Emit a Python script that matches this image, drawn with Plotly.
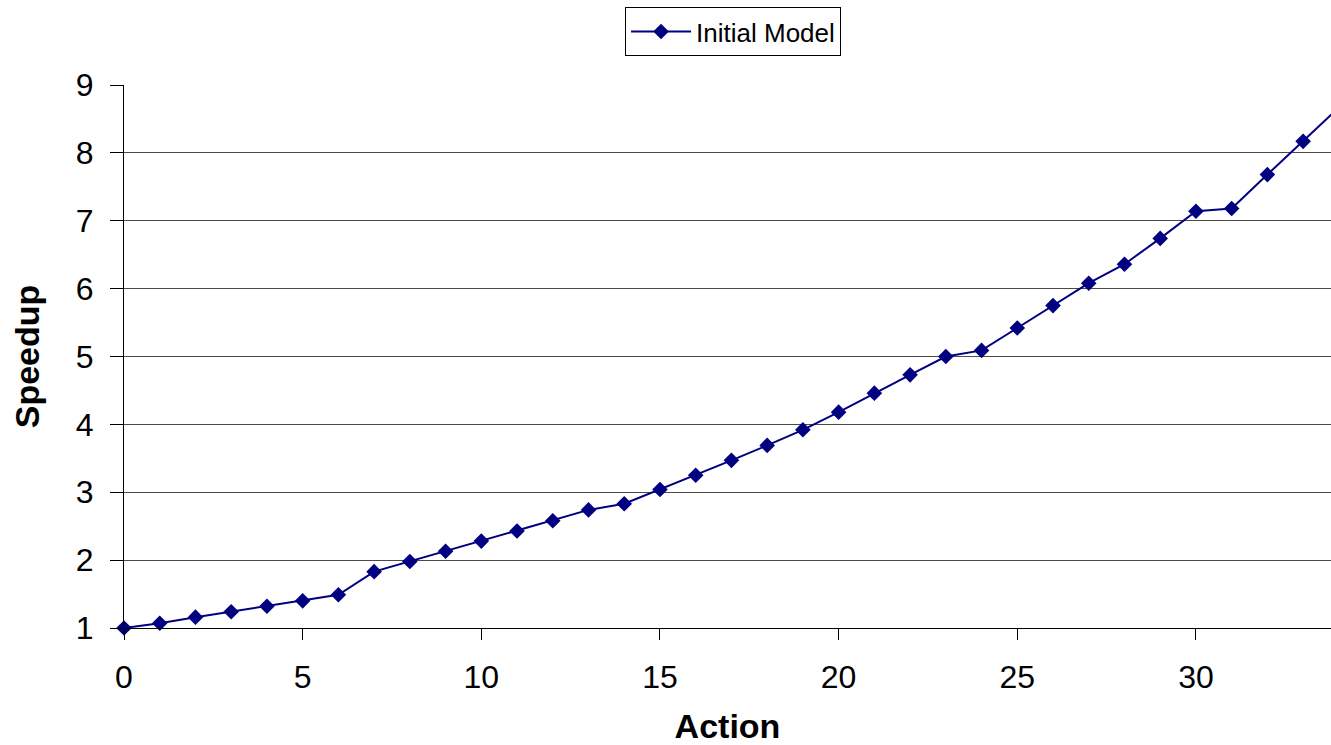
import plotly.graph_objects as go

actions = list(range(0, 35))
speedup = [1.00, 1.07, 1.16, 1.24, 1.32, 1.40, 1.49, 1.83, 1.98, 2.13,
           2.28, 2.43, 2.58, 2.74, 2.83, 3.04, 3.25, 3.47, 3.69, 3.92,
           4.18, 4.46, 4.73, 5.00, 5.09, 5.42, 5.75, 6.08, 6.36, 6.74,
           7.14, 7.18, 7.68, 8.17, 8.67]
series_name = "Initial Model"
x_ticks = [0, 5, 10, 15, 20, 25, 30]
y_ticks = [1, 2, 3, 4, 5, 6, 7, 8, 9]

fig = go.Figure()
fig.add_trace(go.Scatter(
    x=actions, y=speedup, name=series_name, mode="lines+markers",
    line=dict(color="#000080", width=2),
    marker=dict(symbol="diamond", size=12, color="#000080"),
    cliponaxis=False,
))

font = "Liberation Sans, Arial, sans-serif"
fig.update_layout(
    width=1331, height=745,
    margin=dict(l=124, r=0, t=85, b=117),
    plot_bgcolor="white", paper_bgcolor="white",
    font=dict(family=font, color="black", size=26),
    showlegend=True,
    legend=dict(
        x=0.5046, y=1.1436, xanchor="center", yanchor="top",
        bordercolor="black", borderwidth=1,
        font=dict(size=26, family=font), bgcolor="white",
        itemwidth=60, tracegroupgap=0,
    ),
    xaxis=dict(
        range=[0, 33.78], tickvals=x_ticks, showgrid=False,
        showline=True, linecolor="black", linewidth=1,
        ticks="outside", ticklen=11, tickcolor="black",
        tickfont=dict(size=32), ticklabelstandoff=10,
        zeroline=False, automargin=False,
        title=dict(text="<b>Action</b>", font=dict(size=34), standoff=31),
    ),
    yaxis=dict(
        range=[1, 9], tickvals=y_ticks, showgrid=True, gridcolor="#4a4a4a", gridwidth=1,
        showline=True, linecolor="black", linewidth=1,
        ticks="outside", ticklen=13, tickcolor="black",
        tickfont=dict(size=32), ticklabelstandoff=10,
        zeroline=False, automargin=False,
        title=dict(text="<b>Speedup</b>", font=dict(size=34), standoff=25),
    ),
)

fig.write_html("out.html")
